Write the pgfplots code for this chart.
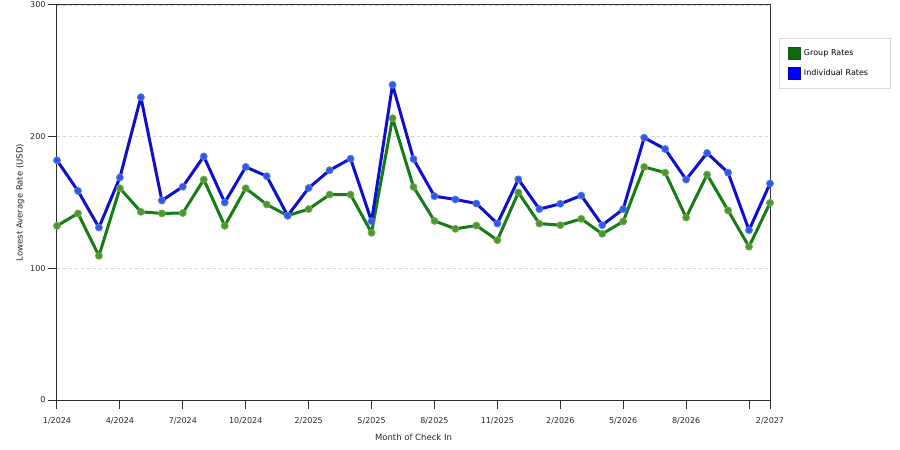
\documentclass[border=0pt]{standalone}
\usepackage{pgfplots}
\pgfplotsset{compat=1.18}
\usepackage{fontspec}
\setmainfont{DejaVu Sans}

\definecolor{grpline}{RGB}{20,125,20}
\definecolor{grpmark}{RGB}{75,150,45}
\definecolor{indline}{RGB}{15,15,205}
\definecolor{indmark}{RGB}{45,90,225}
\definecolor{axisgray}{RGB}{45,45,45}

% month index -> lowest average rate
\pgfplotstableread{
idx grp ind
0  132.3 182
1  141.7 158.8
2  109.5 131
3  160.8 169
4  142.9 230
5  141.7 151.5
6  142   162
7  167.4 185
8  132.3 150
9  160.8 177
10 148.5 170
11 140   140
12 145   161
13 156   174.5
14 156   183.3
15 127   135.8
16 214   239.4
17 161.8 183
18 136   154.8
19 130   152.3
20 132.5 149.2
21 121.4 134
22 157.6 167.6
23 134   145
24 132.8 149
25 137.6 155.3
26 126.2 132.8
27 135.6 145
28 177   199.2
29 172.7 190.6
30 138.6 167.4
31 171.2 187.6
32 144   172.7
33 116.4 129
34 149.7 164.4
}\rates

\begin{document}
\begin{tikzpicture}
\path[use as bounding box] (-57pt,-50pt) rectangle (843pt,400pt);
\begin{axis}[
  scale only axis,
  width=713pt, height=395pt,
  xmin=0, xmax=34, ymin=0, ymax=300,
  axis line style={axisgray, line width=1pt},
  xtick={0,3,6,9,12,15,18,21,24,27,30,33,34},
  xticklabels={1/2024,4/2024,7/2024,10/2024,2/2025,5/2025,8/2025,11/2025,2/2026,5/2026,8/2026,,2/2027},
  ytick={0,100,200,300},
  xtick pos=bottom, ytick pos=left,
  tick align=outside,
  major tick length=9pt,
  tick style={axisgray, line width=1pt},
  ymajorgrids,
  major grid style={gray!35, dashed, line width=0.8pt},
  ticklabel style={font=\fontsize{8}{10}\selectfont, text=black!85},
  /pgf/number format/assume math mode=true,
  xticklabel style={yshift=-5pt},
  yticklabel style={xshift=1pt},
  xlabel={Month of Check In},
  ylabel={Lowest Average Rate (USD)},
  label style={font=\fontsize{8.5}{10}\selectfont, text=black!85},
  xlabel style={yshift=-3pt},
  ylabel style={yshift=-1pt},
  legend style={at={(rel axis cs:1.0126,0.9165)}, anchor=north west,
    draw=gray!30, line width=0.8pt, font=\fontsize{8}{10}\selectfont,
    inner xsep=9pt, inner ysep=9pt, row sep=7pt,
    nodes={text width=74pt, inner xsep=3pt}},
  legend cell align=left,
]
\addplot[grpline, line width=3pt, line join=round, mark=*, mark size=3.5pt,
  mark options={fill=grpmark, draw=grpmark!80, line width=0.8pt},
  legend image code/.code={\draw[fill=grpline!85!black, draw=grpline!70!black, line width=0.6pt] (0pt,-6pt) rectangle (12pt,6pt);}]
  table[x=idx, y=grp] {\rates};
\addlegendentry{Group Rates}
\addplot[indline, line width=3pt, line join=round, mark=*, mark size=3.5pt,
  mark options={fill=indmark, draw=indmark!80, line width=0.8pt},
  legend image code/.code={\draw[fill=blue, draw=blue!70!black, line width=0.6pt] (0pt,-6pt) rectangle (12pt,6pt);}]
  table[x=idx, y=ind] {\rates};
\addlegendentry{Individual Rates}
\end{axis}
\end{tikzpicture}
\end{document}
